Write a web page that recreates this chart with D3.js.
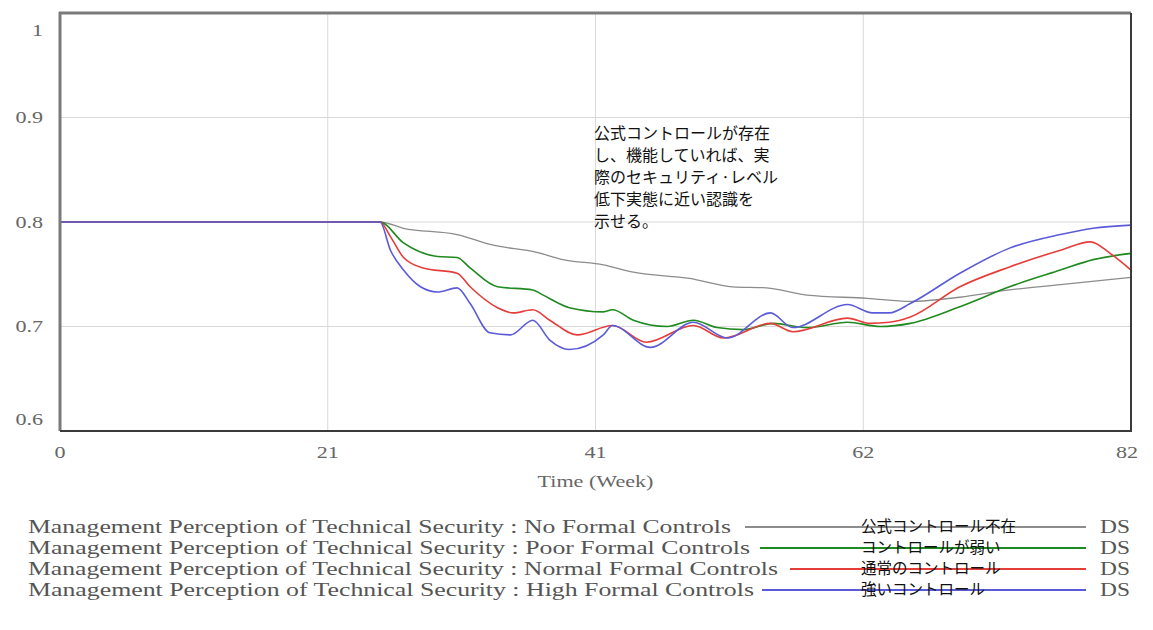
<!DOCTYPE html>
<html>
<head>
<meta charset="utf-8">
<script src="https://cdn.jsdelivr.net/npm/d3@7"></script>
<style>
  body { margin: 0; background: #fff; }
  svg { display: block; }
</style>
</head>
<body>
<div id="main"></div>
<script>
// series (week, value)
var noWeeks   = [0, 24.5, 26.3, 30.4, 33.1, 36.5, 38.5, 41.6, 43.9, 48.2, 51.5, 54.1, 57.2, 61.8, 65.1, 68.9, 72.7, 76.6, 82];
var noVals    = [0.8, 0.8, 0.794, 0.788, 0.778, 0.771, 0.764, 0.759, 0.752, 0.746, 0.738, 0.737, 0.730, 0.727, 0.724, 0.728, 0.735, 0.740, 0.747];

var poorWeeks = [0, 24.5, 26.3, 28.9, 30.4, 31.4, 33.5, 36.2, 37.0, 39.0, 41.6, 42.3, 43.9, 46.5, 48.5, 50.3, 52.3, 54.6, 57.2, 60.3, 62.8, 65.1, 68.9, 72.7, 76.6, 79.1, 82];
var poorVals  = [0.8, 0.8, 0.780, 0.767, 0.766, 0.756, 0.738, 0.735, 0.730, 0.718, 0.714, 0.716, 0.706, 0.700, 0.706, 0.699, 0.697, 0.703, 0.699, 0.704, 0.700, 0.703, 0.719, 0.738, 0.754, 0.764, 0.770];

var normWeeks = [0, 24.5, 25.3, 26.3, 27.8, 30.4, 31.4, 33.5, 34.7, 36.2, 37.5, 39.6, 42.3, 44.9, 48.5, 50.8, 54.4, 56.1, 60.3, 62.0, 63.5, 65.1, 68.9, 72.7, 76.6, 78.9, 80.4, 82];
var normVals  = [0.8, 0.8, 0.786, 0.766, 0.756, 0.751, 0.738, 0.718, 0.713, 0.716, 0.706, 0.692, 0.701, 0.685, 0.701, 0.689, 0.703, 0.695, 0.708, 0.703, 0.704, 0.709, 0.738, 0.757, 0.773, 0.781, 0.770, 0.754];

var highWeeks = [0, 24.5, 25.3, 26.3, 27.6, 28.9, 30.4, 31.4, 32.9, 34.5, 36.2, 37.5, 39.0, 41.6, 42.3, 45.2, 48.5, 51.1, 54.4, 56.1, 60.3, 62.2, 63.5, 65.1, 68.9, 72.7, 76.6, 79.1, 82];
var highVals  = [0.8, 0.8, 0.773, 0.754, 0.738, 0.733, 0.737, 0.722, 0.694, 0.692, 0.706, 0.687, 0.678, 0.692, 0.701, 0.680, 0.704, 0.689, 0.713, 0.699, 0.721, 0.713, 0.713, 0.722, 0.751, 0.775, 0.788, 0.794, 0.797];

var seriesNames = [
  'Management Perception of Technical Security : No Formal Controls',
  'Management Perception of Technical Security : Poor Formal Controls',
  'Management Perception of Technical Security : Normal Formal Controls',
  'Management Perception of Technical Security : High Formal Controls'
];
var seriesJa = ['公式コントロール不在', 'コントロールが弱い', '通常のコントロール', '強いコントロール'];
var seriesColors = ['#8c8c8c', '#1f8a1f', '#e53e3a', '#5b5bd9'];

var xTicks = [0, 20.5, 41, 61.5, 82];
var xTickLabels = ['0', '21', '41', '62', '82'];
var yTicks = [1, 0.9, 0.8, 0.7, 0.6];
var yTickLabels = ['1', '0.9', '0.8', '0.7', '0.6'];

var note = ['公式コントロールが存在', 'し、機能していれば、実', '際のセキュリティ·レベル', '低下実態に近い認識を', '示せる。'];

var width = 1153, height = 630;
var pLeft = 60, pTop = 13, pRight = 1131, pBottom = 431;
var stretch = 1.3; // the serif text in the picture is drawn wider than normal

var x = d3.scaleLinear().domain([0, 82]).range([pLeft, pRight]);
var y = d3.scaleLinear().domain([0.6, 1]).range([pBottom, pTop]);

var svg = d3.select('#main').append('svg')
    .attr('width', width)
    .attr('height', height);

function widen(sel) {
  sel.each(function() {
    this.setAttribute('textLength', this.getComputedTextLength() * stretch);
    this.setAttribute('lengthAdjust', 'spacingAndGlyphs');
  });
}

// grid
svg.append('g').selectAll('line').data(xTicks.slice(1, -1)).enter().append('line')
    .attr('x1', function(d) { return x(d); }).attr('x2', function(d) { return x(d); })
    .attr('y1', pTop).attr('y2', pBottom)
    .attr('stroke', '#d9d9d9').attr('stroke-width', 1);
svg.append('g').selectAll('line').data(yTicks.slice(1, -1)).enter().append('line')
    .attr('x1', pLeft).attr('x2', pRight)
    .attr('y1', function(d) { return y(d); }).attr('y2', function(d) { return y(d); })
    .attr('stroke', '#d9d9d9').attr('stroke-width', 1);

// curves
var all = [[noWeeks, noVals], [poorWeeks, poorVals], [normWeeks, normVals], [highWeeks, highVals]];
var line = d3.line()
    .x(function(d) { return x(d[0]); })
    .y(function(d) { return y(d[1]); })
    .curve(d3.curveMonotoneX);

svg.append('g').selectAll('path').data(all).enter().append('path')
    .attr('d', function(s) { return line(d3.zip(s[0], s[1])); })
    .attr('fill', 'none')
    .attr('stroke', function(d, i) { return seriesColors[i]; })
    .attr('stroke-width', function(d, i) { return i == 0 ? 1.3 : 1.6; });

// frame
svg.append('line').attr('x1', pLeft).attr('x2', pLeft).attr('y1', pTop - 1).attr('y2', pBottom)
    .attr('stroke', '#7a7a7a').attr('stroke-width', 3);
svg.append('line').attr('x1', pLeft - 1).attr('x2', pRight).attr('y1', pTop).attr('y2', pTop)
    .attr('stroke', '#7a7a7a').attr('stroke-width', 3);
svg.append('line').attr('x1', pRight).attr('x2', pRight).attr('y1', pTop).attr('y2', pBottom + 1)
    .attr('stroke', '#3a3a3a').attr('stroke-width', 2);
svg.append('line').attr('x1', pLeft).attr('x2', pRight + 1).attr('y1', pBottom).attr('y2', pBottom)
    .attr('stroke', '#3a3a3a').attr('stroke-width', 2);

var serif = "'Liberation Serif', 'DejaVu Serif', serif";

// y labels
svg.append('g').selectAll('text').data(yTicks).enter().append('text')
    .attr('x', 43)
    .attr('y', function(d, i) { return y(d) + (i == 0 ? 17 : (i == yTicks.length - 1 ? -12 : 0)); })
    .attr('dy', '0.35em')
    .attr('text-anchor', 'end')
    .style('font-family', serif).style('font-size', '17px').style('fill', '#666')
    .text(function(d, i) { return yTickLabels[i]; })
    .call(widen);

// x labels
svg.append('g').selectAll('text').data(xTicks).enter().append('text')
    .attr('x', function(d, i) { return x(d) - (i == xTicks.length - 1 ? 4 : 0); })
    .attr('y', 458)
    .attr('text-anchor', 'middle')
    .style('font-family', serif).style('font-size', '17px').style('fill', '#666')
    .text(function(d, i) { return xTickLabels[i]; })
    .call(widen);

svg.append('text')
    .attr('x', x(41)).attr('y', 487)
    .attr('text-anchor', 'middle')
    .style('font-family', serif).style('font-size', '17px').style('fill', '#666')
    .text('Time (Week)')
    .call(widen);

// note
svg.append('g').selectAll('text').data(note).enter().append('text')
    .attr('x', 594)
    .attr('y', function(d, i) { return 133 + i * 22; })
    .attr('dy', '0.35em')
    .style('font-family', "'Noto Sans CJK JP', sans-serif").style('font-size', '16px').style('fill', '#111')
    .text(function(d) { return d; });

// legend
var rowY = [527, 548, 569, 590];
var textEnd = [731, 750, 778, 754];
var lineStart = [745, 760, 790, 762];

var leg = svg.append('g').selectAll('g').data(seriesNames).enter().append('g');

leg.append('text')
    .attr('x', 28)
    .attr('y', function(d, i) { return rowY[i]; })
    .attr('dy', '0.35em')
    .attr('textLength', function(d, i) { return textEnd[i] - 28; })
    .attr('lengthAdjust', 'spacingAndGlyphs')
    .style('font-family', serif).style('font-size', '18px').style('fill', '#555')
    .text(function(d) { return d; });

leg.append('line')
    .attr('x1', function(d, i) { return lineStart[i]; })
    .attr('x2', 1086)
    .attr('y1', function(d, i) { return rowY[i]; })
    .attr('y2', function(d, i) { return rowY[i]; })
    .attr('stroke', function(d, i) { return seriesColors[i]; })
    .attr('stroke-width', 2);

leg.append('text')
    .attr('x', 861)
    .attr('y', function(d, i) { return rowY[i]; })
    .attr('dy', '0.35em')
    .style('font-family', "'Noto Sans CJK JP', sans-serif").style('font-size', '15.5px').style('fill', '#111')
    .text(function(d, i) { return seriesJa[i]; });

leg.append('text')
    .attr('x', 1100)
    .attr('y', function(d, i) { return rowY[i]; })
    .attr('dy', '0.35em')
    .style('font-family', serif).style('font-size', '18px').style('fill', '#555')
    .text('DS')
    .call(widen);
</script>
</body>
</html>
